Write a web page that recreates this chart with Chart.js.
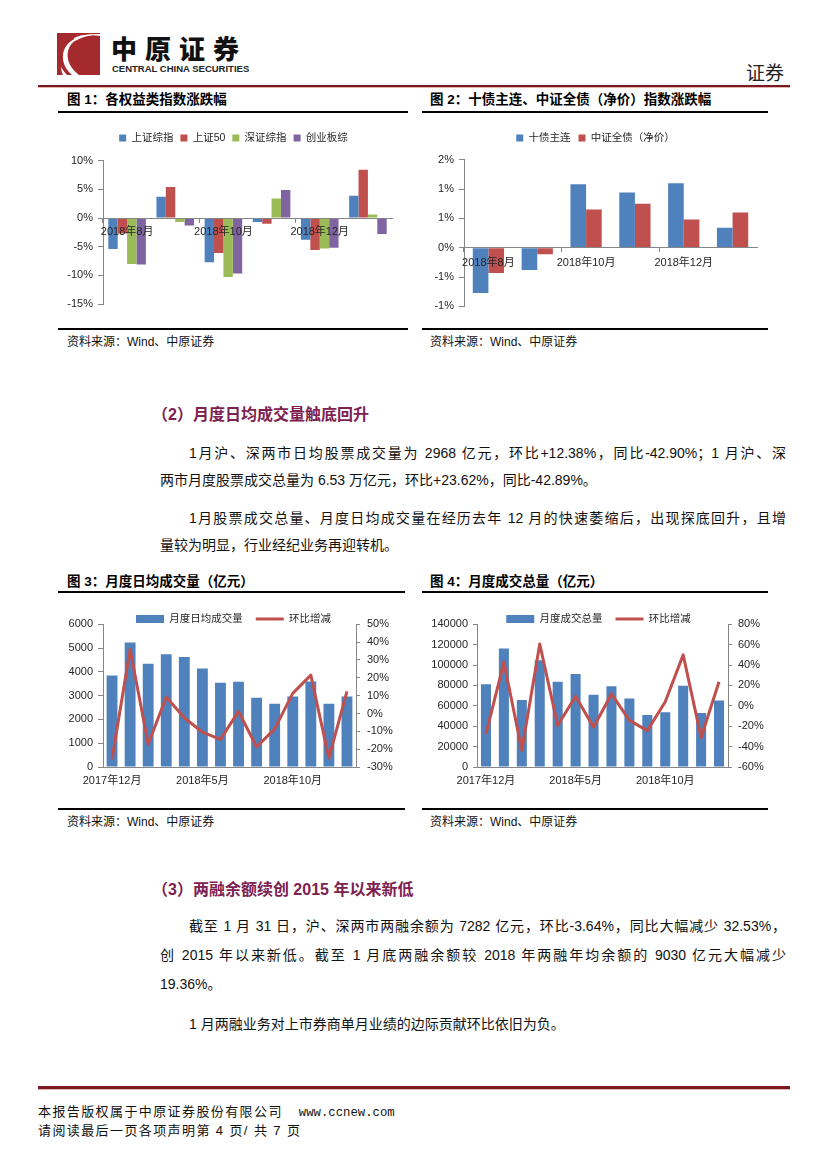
<!DOCTYPE html>
<html><head><meta charset="utf-8">
<script src="https://cdn.jsdelivr.net/npm/chart.js@4/dist/chart.umd.min.js"></script>
<style>
html,body{margin:0;padding:0;background:#fff;}
body{width:827px;height:1169px;position:relative;overflow:hidden;font-family:"Liberation Sans","Noto Sans CJK SC",sans-serif;color:#111;}
.abs{position:absolute;}
.ftitle{position:absolute;font-weight:bold;font-size:13.5px;line-height:16px;color:#000;white-space:nowrap;}
.rule{position:absolute;height:2px;background:#000;}
.src{position:absolute;font-size:12px;line-height:14px;white-space:nowrap;color:#111;}
.cbox{position:absolute;}
.h2{position:absolute;font-weight:bold;font-size:16px;color:#7d2150;white-space:nowrap;line-height:20px;}
.ln{position:absolute;font-size:14px;line-height:20px;white-space:nowrap;color:#111;}
.jl{text-align:justify;text-align-last:justify;white-space:normal;height:20px;overflow:hidden;}
.foot{position:absolute;font-size:13px;line-height:16px;letter-spacing:1.4px;white-space:nowrap;color:#111;}
</style></head>
<body>
<!-- header -->
<div class="abs" style="left:57px;top:33px;width:43px;height:42px;background:#a52a2e;overflow:hidden">
<svg width="43" height="42" viewBox="0 0 43 42"><path d="M43,3 C28,0 14,6 11,18 C9,27 14,36 22,42 L15,42 C7,35 4,26 7,17 C11,6 26,0 43,1 Z" fill="#fff"/><path d="M17,5 C22,2 29,1 36,2 C29,3 23,5 18,8 Z" fill="#fff"/><path d="M4,34 C6,37 8,40 10,42 L6,42 C5,40 4,37 4,34 Z" fill="#fff"/></svg>
</div>
<div class="abs" style="left:111px;top:34px;font-size:26px;line-height:28px;font-weight:900;letter-spacing:8px;font-family:'Noto Sans CJK SC';color:#111;white-space:nowrap">中原证券</div>
<div class="abs" style="left:112px;top:63px;font-size:9.5px;line-height:11px;font-weight:bold;font-family:'Liberation Sans Narrow','Liberation Sans';color:#222;white-space:nowrap">CENTRAL CHINA SECURITIES</div>
<div class="abs" style="left:746px;top:61px;font-size:19px;line-height:22px;font-family:'Noto Sans CJK SC';color:#222;white-space:nowrap">证券</div>
<div class="abs" style="left:38px;top:85px;width:752px;height:2px;background:#7b1a1e"></div>
<div class="abs" style="left:38px;top:87px;width:752px;height:1px;background:#e2b4b4"></div>

<!-- figure 1 -->
<div class="ftitle" style="left:67px;top:92px">图 1：各权益类指数涨跌幅</div>
<div class="rule" style="left:58px;top:111px;width:350px"></div>
<div class="cbox" style="left:40px;top:118px;width:370px;height:200px"><canvas id="c1"></canvas></div>
<div class="rule" style="left:58px;top:328px;width:350px"></div>
<div class="src" style="left:67px;top:335px">资料来源：Wind、中原证券</div>

<!-- figure 2 -->
<div class="ftitle" style="left:430px;top:92px">图 2：十债主连、中证全债（净价）指数涨跌幅</div>
<div class="rule" style="left:422px;top:111px;width:346px"></div>
<div class="cbox" style="left:422px;top:118px;width:346px;height:200px"><canvas id="c2"></canvas></div>
<div class="rule" style="left:422px;top:328px;width:346px"></div>
<div class="src" style="left:430px;top:335px">资料来源：Wind、中原证券</div>

<!-- section 2 -->
<div class="h2" style="left:152px;top:405px">（2）月度日均成交量触底回升</div>
<div class="ln jl" style="left:189px;top:443px;width:597px">1月沪、深两市日均股票成交量为 2968 亿元，环比+12.38%，同比-42.90%；1 月沪、深</div>
<div class="ln" style="left:160px;top:470px">两市月度股票成交总量为 6.53 万亿元，环比+23.62%，同比-42.89%。</div>
<div class="ln jl" style="left:189px;top:508px;width:597px">1月股票成交总量、月度日均成交量在经历去年 12 月的快速萎缩后，出现探底回升，且增</div>
<div class="ln" style="left:160px;top:535px">量较为明显，行业经纪业务再迎转机。</div>

<!-- figure 3 -->
<div class="ftitle" style="left:67px;top:574px">图 3：月度日均成交量（亿元）</div>
<div class="rule" style="left:58px;top:591px;width:347px"></div>
<div class="cbox" style="left:40px;top:598px;width:370px;height:205px"><canvas id="c3"></canvas></div>
<div class="rule" style="left:58px;top:808px;width:347px"></div>
<div class="src" style="left:67px;top:815px">资料来源：Wind、中原证券</div>

<!-- figure 4 -->
<div class="ftitle" style="left:430px;top:574px">图 4：月度成交总量（亿元）</div>
<div class="rule" style="left:422px;top:591px;width:346px"></div>
<div class="cbox" style="left:422px;top:598px;width:346px;height:205px"><canvas id="c4"></canvas></div>
<div class="rule" style="left:422px;top:808px;width:346px"></div>
<div class="src" style="left:430px;top:815px">资料来源：Wind、中原证券</div>

<!-- section 3 -->
<div class="h2" style="left:152px;top:880px">（3）两融余额续创 2015 年以来新低</div>
<div class="ln jl" style="left:189px;top:916px;width:597px">截至 1 月 31 日，沪、深两市两融余额为 7282 亿元，环比-3.64%，同比大幅减少 32.53%，</div>
<div class="ln jl" style="left:160px;top:945px;width:626px">创 2015 年以来新低。截至 1 月底两融余额较 2018 年两融年均余额的 9030 亿元大幅减少</div>
<div class="ln" style="left:160px;top:974px">19.36%。</div>
<div class="ln" style="left:189px;top:1014px">1 月两融业务对上市券商单月业绩的边际贡献环比依旧为负。</div>

<!-- footer -->
<div class="abs" style="left:38px;top:1086px;width:752px;height:3px;background:#7b1a1e"></div>
<div class="abs" style="left:38px;top:1089px;width:752px;height:1px;background:#e2b4b4"></div>
<div class="foot" style="left:38px;top:1104px">本报告版权属于中原证券股份有限公司<span style="letter-spacing:0;font-family:'Liberation Mono';font-size:12.3px;margin-left:16px">www.ccnew.com</span></div>
<div class="foot" style="left:38px;top:1123px">请阅读最后一页各项声明第 4 页/ 共 7 页</div>

<script>
// ---------- data ----------
const months1 = ['2018年8月','2018年9月','2018年10月','2018年11月','2018年12月','2019年1月'];
const shComp  = [-5.4, 3.7, -7.7, -0.7, -3.8, 3.9];
const sh50    = [-2.7, 5.4, -6.1, -1.0, -5.6, 8.4];
const szComp  = [-8.0, -0.7, -10.3, 3.4, -5.3, 0.6];
const cybComp = [-8.1, -1.3, -9.7, 4.9, -5.2, -2.8];
const y1Labels = ['-15%','-10%','-5%','0%','5%','10%'];

const bond10  = [-0.77, -0.38, 1.08, 0.94, 1.10, 0.34];
const cbond   = [-0.43, -0.11, 0.65, 0.75, 0.48, 0.60];
const y2Labels = ['-1%','-1%','0%','1%','1%','2%'];

const months2 = ['2017年12月','2018年1月','2018年2月','2018年3月','2018年4月','2018年5月','2018年6月','2018年7月','2018年8月','2018年9月','2018年10月','2018年11月','2018年12月','2019年1月'];
const dailyVol = [3850, 5240, 4340, 4740, 4630, 4140, 3540, 3580, 2910, 2660, 2960, 3600, 2660, 2968];
const dailyChg = [-25.6, 36.0, -17.2, 9.2, -2.4, -10.5, -14.5, 1.2, -18.8, -8.6, 11.3, 21.5, -25.0, 12.38];
const y3Left  = ['0','1000','2000','3000','4000','5000','6000'];
const y3Right = ['-30%','-20%','-10%','0%','10%','20%','30%','40%','50%'];

const totalVol = [81300, 116300, 65700, 104700, 83700, 91300, 71000, 79300, 67300, 51000, 53700, 79700, 53000, 65300];
const totalChg = [-27.7, 43.0, -43.7, 60.7, -19.3, 9.5, -21.0, 11.7, -14.3, -24.3, 4.0, 50.0, -31.0, 23.62];
const y4Left  = ['0','20000','40000','60000','80000','100000','120000','140000'];
const y4Right = ['-60%','-40%','-20%','0%','20%','40%','60%','80%'];

// ---------- styling ----------
const AX = '#868686';
const TXT = '#262626';
const BLUE = '#4F81BD', RED = '#C0504D', GREEN = '#9BBB59', PURPLE = '#8064A2';
Chart.defaults.font.family = '"Liberation Sans","Noto Sans CJK SC",sans-serif';
Chart.defaults.font.size = 11;
Chart.defaults.color = TXT;

function tuneLegend(extra, dx) {
  return {
    id: 'tuneLegend',
    beforeLayout(chart) {
      const lg = chart.legend;
      if (lg && !lg.__tuned) {
        lg.__tuned = true;
        const f = lg.fit;
        lg.fit = function () { f.call(this); this.height += extra; };
      }
    },
    afterLayout(chart) {
      const lg = chart.legend;
      if (lg) { lg.left += dx; lg.right += dx; }
    }
  };
}

function yAxis(min, max, step, labels, width, extra) {
  return Object.assign({
    min: min, max: max,
    ticks: { stepSize: step, padding: 5, color: TXT, font: { size: 11 }, callback: (v, i) => labels[i] },
    grid: { drawOnChartArea: false, drawTicks: true, tickLength: 5, color: AX },
    border: { color: AX, width: 1 },
    afterFit(s) { s.width = width; }
  }, extra || {});
}

function zeroXAxis(pad) {
  return {
    position: { y: 0 }, offset: true,
    grid: { offset: true, drawOnChartArea: false, drawTicks: true, tickLength: 4, z: 1,
            color: c => (c.index % 2 === 0 ? AX : 'rgba(0,0,0,0)') },
    border: { color: AX, width: 1, z: 1 },
    ticks: { z: 1, autoSkip: false, maxRotation: 0, padding: pad, color: TXT, font: { size: 11 },
             callback(v, i) { return i % 2 === 0 ? this.getLabelForValue(v) : ''; } }
  };
}

// ---------- chart 1 ----------
new Chart(document.getElementById('c1'), {
  type: 'bar',
  data: { labels: months1, datasets: [
    { label: '上证综指', data: shComp, backgroundColor: BLUE },
    { label: '上证50', data: sh50, backgroundColor: RED },
    { label: '深证综指', data: szComp, backgroundColor: GREEN },
    { label: '创业板综', data: cybComp, backgroundColor: PURPLE }
  ]},
  options: {
    responsive: true, maintainAspectRatio: false, animation: false,
    layout: { padding: { left: 0, right: 18, top: 7.75, bottom: 14 } },
    datasets: { bar: { barPercentage: 1, categoryPercentage: 0.78 } },
    plugins: {
      legend: { position: 'top', labels: { boxWidth: 7, boxHeight: 7, padding: 7, color: TXT, font: { size: 10.5 } } },
      tooltip: { enabled: false }
    },
    scales: { x: zeroXAxis(3), y: yAxis(-15, 10, 5, y1Labels, 63) }
  },
  plugins: [tuneLegend(7.45, 17.5)]
});

// ---------- chart 2 ----------
new Chart(document.getElementById('c2'), {
  type: 'bar',
  data: { labels: months1, datasets: [
    { label: '十债主连', data: bond10, backgroundColor: BLUE },
    { label: '中证全债（净价）', data: cbond, backgroundColor: RED }
  ]},
  options: {
    responsive: true, maintainAspectRatio: false, animation: false,
    layout: { padding: { left: 0, right: 11, top: 6.75, bottom: 11 } },
    datasets: { bar: { barPercentage: 1, categoryPercentage: 0.64 } },
    plugins: {
      legend: { position: 'top', labels: { boxWidth: 7, boxHeight: 7, padding: 8, color: TXT, font: { size: 10.5 } } },
      tooltip: { enabled: false }
    },
    scales: { x: zeroXAxis(4.4), y: yAxis(-1, 1.5, 0.5, y2Labels, 42) }
  },
  plugins: [tuneLegend(6.45, 6)]
});

// ---------- charts 3 & 4 ----------
function comboChart(id, barLabel, bars, chg, leftAx, rightAx, opts) {
  return new Chart(document.getElementById(id), {
    data: { labels: months2, datasets: [
      { type: 'bar', label: barLabel, data: bars, backgroundColor: BLUE, yAxisID: 'y', order: 1, pointStyle: 'rect',
        barPercentage: 1, categoryPercentage: opts.cat },
      { type: 'line', label: '环比增减', data: chg, borderColor: RED, backgroundColor: RED, borderWidth: 3,
        pointRadius: 0, tension: 0, yAxisID: 'y1', order: 0, pointStyle: 'line', borderJoinStyle: 'round' }
    ]},
    options: {
      responsive: true, maintainAspectRatio: false, animation: false,
      layout: { padding: { left: 0, right: opts.pr, top: 2.75, bottom: 14 } },
      plugins: {
        legend: { position: 'top', labels: { usePointStyle: true, pointStyleWidth: 28, boxHeight: 8, padding: 13,
          color: TXT, font: { size: 10.5 }, sort: (a, b) => a.datasetIndex - b.datasetIndex } },
        tooltip: { enabled: false }
      },
      scales: {
        x: { offset: true, grid: { offset: true, drawOnChartArea: false, drawTicks: false },
             border: { color: AX, width: 1 },
             ticks: { autoSkip: false, maxRotation: 0, padding: 7, color: TXT, font: { size: 11 },
                      callback(v, i) { return i % 5 === 0 ? this.getLabelForValue(v) : ''; } },
             afterFit(s) { s.height = 22; } },
        y: yAxis(leftAx.min, leftAx.max, leftAx.step, leftAx.labels, opts.lw, { grid: { drawOnChartArea: false, drawTicks: true, tickLength: opts.tl, color: AX } }),
        y1: yAxis(rightAx.min, rightAx.max, rightAx.step, rightAx.labels, opts.rw,
          { position: 'right', grid: { drawOnChartArea: false, drawTicks: true, tickLength: 4, color: AX },
            ticks: { stepSize: rightAx.step, padding: opts.rp, color: TXT, font: { size: 11 }, callback: (v, i) => rightAx.labels[i] } })
      }
    },
    plugins: [tuneLegend(-9.95, opts.dx)]
  });
}

comboChart('c3', '月度日均成交量', dailyVol, dailyChg,
  { min: 0, max: 6000, step: 1000, labels: y3Left },
  { min: -30, max: 50, step: 10, labels: y3Right },
  { cat: 0.6, pr: 10, lw: 63, rw: 44, rp: 7, tl: 5, dx: 13.5 });

comboChart('c4', '月度成交总量', totalVol, totalChg,
  { min: 0, max: 140000, step: 20000, labels: y4Left },
  { min: -60, max: 80, step: 20, labels: y4Right },
  { cat: 0.56, pr: 0, lw: 55, rw: 40, rp: 6, tl: 4, dx: 3.5 });
</script>
</body></html>
